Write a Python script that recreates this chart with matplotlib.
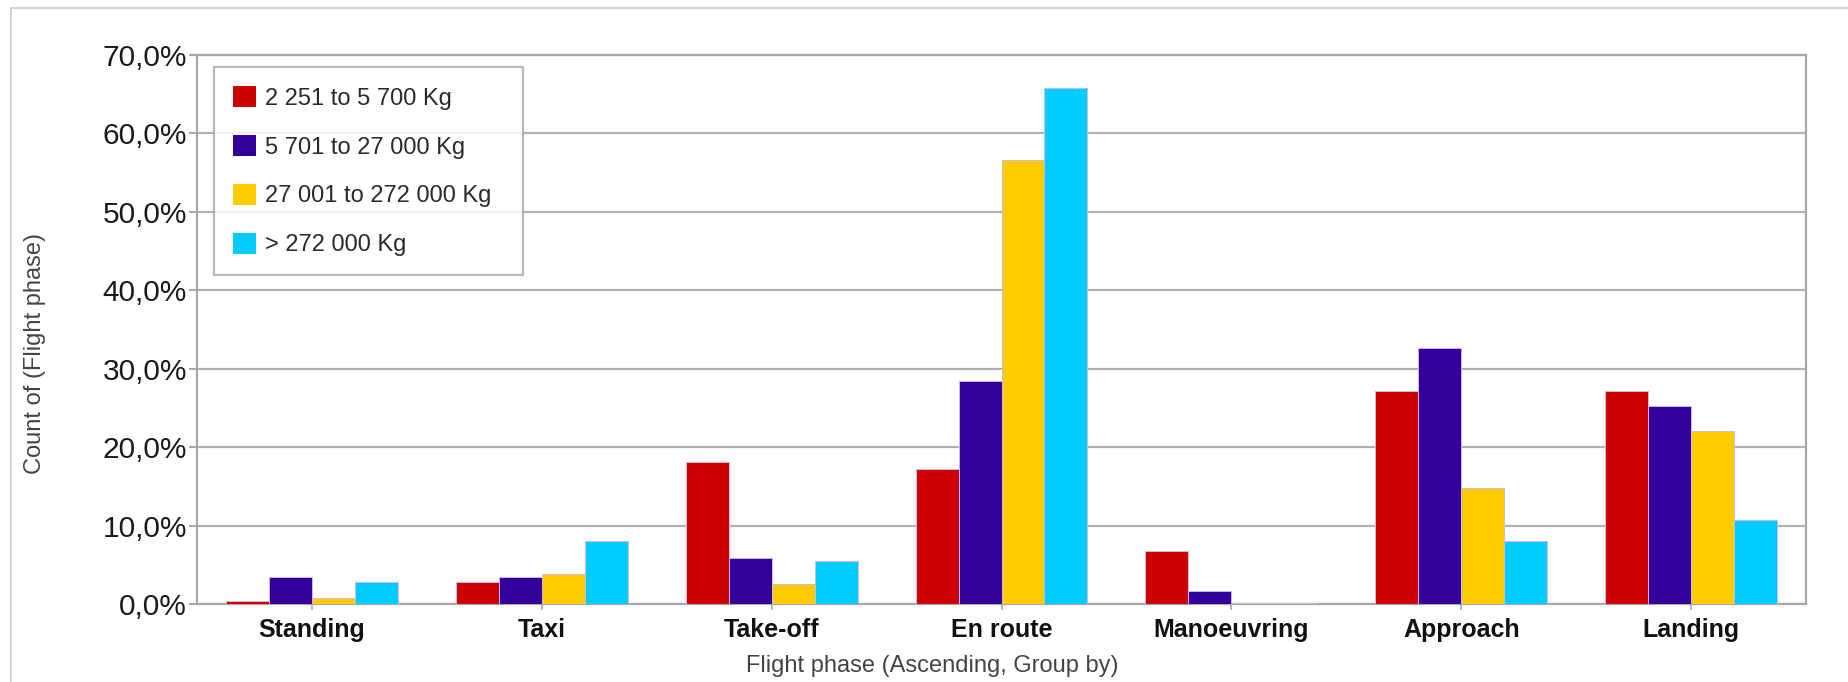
import numpy as np
import matplotlib
matplotlib.use("Agg")
import matplotlib.pyplot as plt
from matplotlib.lines import Line2D
from matplotlib.ticker import FuncFormatter, MultipleLocator

plt.rcParams['font.family'] = ['Liberation Sans', 'DejaVu Sans']

# flight phase share per aircraft weight class (%)
phases = ['Standing', 'Taxi', 'Take-off', 'En route', 'Manoeuvring', 'Approach', 'Landing']
weight_classes = ['2 251 to 5 700 Kg', '5 701 to 27 000 Kg', '27 001 to 272 000 Kg', '> 272 000 Kg']
light = [0.4, 2.85, 18.1, 17.2, 6.8, 27.2, 27.1]
medium = [3.4, 3.4, 5.9, 28.4, 1.7, 32.7, 25.2]
large = [0.8, 3.8, 2.6, 56.6, 0.15, 14.8, 22.0]
heavy = [2.8, 8.0, 5.5, 65.8, 0.15, 8.0, 10.75]
colors = ['#cc0000', '#330099', '#ffcc00', '#00ccff']

grey = '#a8a8a8'

fig = plt.figure(figsize=(18.49, 6.82), dpi=100)
ax = fig.add_axes([0.1065, 0.1144, 0.8703, 0.805])

x = np.arange(len(phases))
w = 0.187
for i, (vals, lab, col) in enumerate(zip([light, medium, large, heavy], weight_classes, colors)):
    ax.bar(x + (i - 1.5) * w, vals, w, color=col, label=lab,
           edgecolor='#cbb8e8', linewidth=0.7, zorder=3)

ax.set_xlim(-0.5, len(phases) - 0.5)
ax.set_ylim(0, 70)
ax.yaxis.set_major_locator(MultipleLocator(10))
ax.yaxis.set_major_formatter(FuncFormatter(lambda v, p: ('%.1f%%' % v).replace('.', ',')))
ax.set_xticks(x)
ax.set_xticklabels(phases, fontsize=18, fontweight='bold', color='#111111')
ax.tick_params(axis='y', labelsize=21.5, labelcolor='#1a1a1a', length=6, width=1.5, color=grey, pad=1)
ax.tick_params(axis='x', length=4, width=1.2, color=grey, pad=6)

ax.grid(axis='y', color='#b2b2b2', linewidth=1.6, zorder=0)
ax.set_axisbelow(True)
for s in ax.spines.values():
    s.set_color(grey)
    s.set_linewidth(1.6)

# fixed-width legend box in the top-left corner
leg = ax.legend(loc='upper left', bbox_to_anchor=(0.0106, 0.4, 0.192, 0.578), mode='expand',
                borderaxespad=0, fontsize=17, frameon=True, fancybox=False,
                handlelength=1.0, handleheight=1.0, handletextpad=0.35,
                labelspacing=1.07, borderpad=0.8)
leg.get_frame().set_edgecolor(grey)
leg.get_frame().set_linewidth(1.6)
for t in leg.get_texts():
    t.set_color('#2a2a2a')
for h in leg.legend_handles:
    h.set_edgecolor('none')

fig.text(932 / 1849, 1 - 666 / 682, 'Flight phase (Ascending, Group by)',
         ha='center', va='center', fontsize=17, color='#444444')
fig.text(35 / 1849, 1 - 353 / 682, 'Count of (Flight phase)', rotation=90,
         ha='center', va='center', fontsize=17, color='#444444')

# outer panel border
fig.add_artist(Line2D([11 / 1849, 11 / 1849], [0, 1 - 8 / 682], transform=fig.transFigure,
                      color='#cccccc', linewidth=1.2))
fig.add_artist(Line2D([11 / 1849, 1], [1 - 8 / 682, 1 - 8 / 682], transform=fig.transFigure,
                      color='#cccccc', linewidth=1.2))

fig.savefig('out.png', dpi=100, facecolor='white')
